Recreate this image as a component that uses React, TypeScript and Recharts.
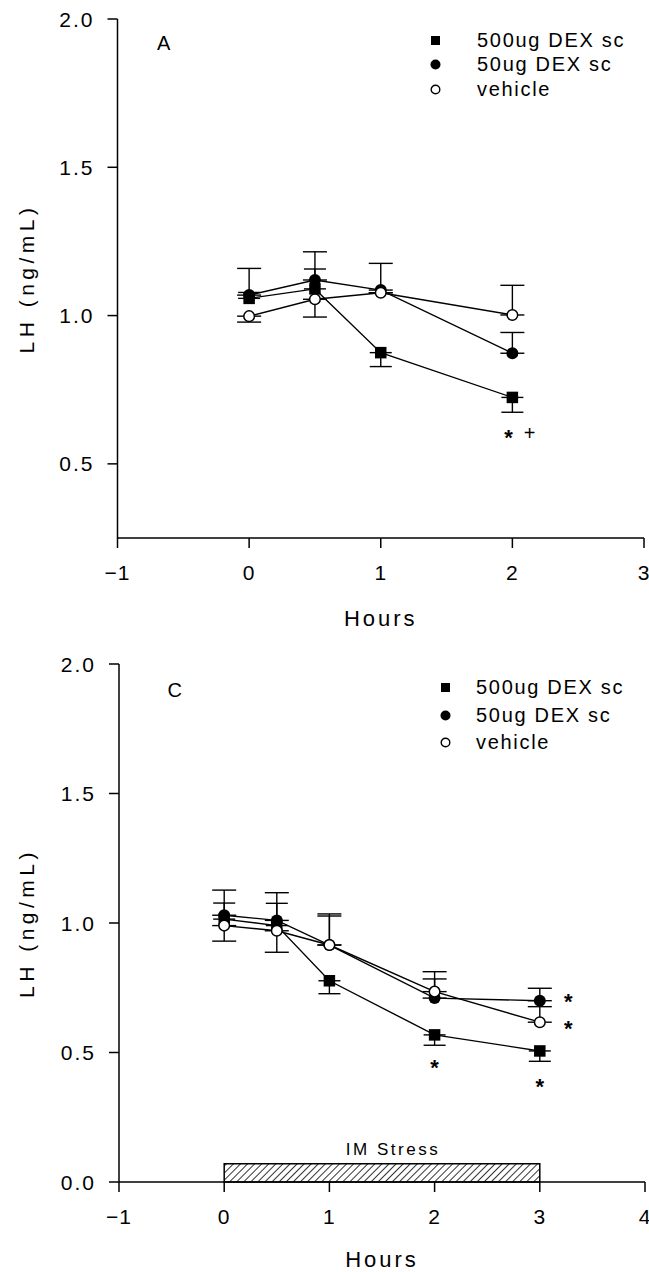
import React from 'react';
import {
  LineChart,
  Line,
  XAxis,
  YAxis,
  ErrorBar,
  ReferenceDot,
  ReferenceArea,
  Legend,
  Label,
} from 'recharts';

const FONT = '"Liberation Sans", Arial, Helvetica, sans-serif';

// ---------- shared ----------
const seriesNames = ['500ug DEX sc', '50ug DEX sc', 'vehicle'];

// ---------- Panel A ----------
const hoursA = [0, 0.5, 1, 2];
const lh500A = [1.058, 1.09, 0.875, 0.724];
const err500A = [[0, 0.02], [0, 0.067], [0.047, 0], [0.05, 0]];
const lh50A = [1.069, 1.12, 1.086, 0.873];
const err50A = [[0, 0.09], [0, 0.095], [0, 0.09], [0, 0.07]];
const lhVehA = [0.998, 1.055, 1.077, 1.002];
const errVehA = [[0.02, 0], [0.06, 0], [0, 0], [0, 0.1]];
const xTicksA = [-1, 0, 1, 2, 3];
const yTicksA = [0.5, 1.0, 1.5, 2.0];
const annotA = [
  { x: 1.97, y: 0.603, text: '*' },
  { x: 2.13, y: 0.603, text: '+' },
];
const panelLetterA = { x: -0.65, y: 1.92, text: 'A' };

// ---------- Panel C ----------
const hoursC = [0, 0.5, 1, 2, 3];
const lh500C = [1.015, 0.99, 0.777, 0.568, 0.506];
const err500C = [[0, 0.062], [0, 0.086], [0.05, 0], [0.04, 0], [0.04, 0]];
const lh50C = [1.03, 1.01, 0.915, 0.71, 0.7];
const err50C = [[0, 0.097], [0, 0.107], [0, 0.12], [0, 0.074], [0, 0.048]];
const lhVehC = [0.99, 0.97, 0.915, 0.735, 0.617];
const errVehC = [[0.06, 0], [0.083, 0], [0, 0.112], [0, 0.077], [0, 0.06]];
const xTicksC = [-1, 0, 1, 2, 3, 4];
const yTicksC = [0, 0.5, 1.0, 1.5, 2.0];
const annotC = [
  { x: 2, y: 0.458, text: '*' },
  { x: 3, y: 0.387, text: '*' },
  { x: 3.27, y: 0.715, text: '*' },
  { x: 3.27, y: 0.61, text: '*' },
];
const panelLetterC = { x: -0.47, y: 1.9, text: 'C' };
const stressBar = { start: 0, end: 3, top: 0.07, label: 'IM Stress' };

function buildRows(
  hours: number[],
  a: number[], ae: number[][],
  b: number[], be: number[][],
  c: number[], ce: number[][]
) {
  return hours.map((h, i) => ({
    hour: h,
    d500: a[i], d500Err: ae[i],
    d50: b[i], d50Err: be[i],
    veh: c[i], vehErr: ce[i],
  }));
}

const rowsA = buildRows(hoursA, lh500A, err500A, lh50A, err50A, lhVehA, errVehA);
const rowsC = buildRows(hoursC, lh500C, err500C, lh50C, err50C, lhVehC, errVehC);

// ---------- markers ----------
const SquareDot = (props: any) => {
  const { cx, cy, index } = props;
  if (cx == null || cy == null) return <g key={`sq-${index}`} />;
  return <rect key={`sq-${index}`} x={cx - 5.75} y={cy - 5.75} width={11.5} height={11.5} fill="#000" />;
};
const FilledDot = (props: any) => {
  const { cx, cy, index } = props;
  if (cx == null || cy == null) return <g key={`fc-${index}`} />;
  return <circle key={`fc-${index}`} cx={cx} cy={cy} r={6} fill="#000" />;
};
const OpenDot = (props: any) => {
  const { cx, cy, index } = props;
  if (cx == null || cy == null) return <g key={`oc-${index}`} />;
  return <circle key={`oc-${index}`} cx={cx} cy={cy} r={5.3} fill="#fff" stroke="#000" strokeWidth={1.5} />;
};

function legendMarker(key: string) {
  if (key === 'd500') return <rect x={4} y={4} width={9} height={9} fill="#000" />;
  if (key === 'd50') return <circle cx={8.5} cy={8.5} r={5} fill="#000" />;
  return <circle cx={8.5} cy={8.5} r={4.3} fill="#fff" stroke="#000" strokeWidth={1.4} />;
}

const makeLegend = (gap: number, rowH: number) => (props: any) => {
  const payload = props.payload || [];
  return (
    <div style={{ fontFamily: FONT, fontSize: 20, letterSpacing: 1.7, color: '#000', whiteSpace: 'nowrap' }}>
      {payload.map((entry: any, i: number) => (
        <div key={i} style={{ display: 'flex', alignItems: 'center', height: rowH }}>
          <svg width={17} height={17} style={{ marginRight: gap, flex: 'none' }}>
            {legendMarker(entry.dataKey)}
          </svg>
          <span>{entry.value}</span>
        </div>
      ))}
    </div>
  );
};

// ---------- ticks & labels ----------
const fmtX = (v: number) => (v < 0 ? `\u2212${Math.abs(v)}` : `${v}`);

const YTick = (props: any) => {
  const { x, y, payload } = props;
  return (
    <text x={x} y={y} textAnchor="end" dominantBaseline="central" fontSize={21}
      fontFamily={FONT} letterSpacing={2} fill="#000">
      {Number(payload.value).toFixed(1)}
    </text>
  );
};
const XTick = (props: any) => {
  const { x, y, payload } = props;
  return (
    <text x={x} y={y} textAnchor="middle" dy="0.71em" fontSize={21}
      fontFamily={FONT} letterSpacing={1} fill="#000">
      {fmtX(Number(payload.value))}
    </text>
  );
};

const makeHoursLabel = (offset: number) => (props: any) => {
  const vb = props.viewBox || {};
  return (
    <text x={vb.x + vb.width / 2} y={vb.y + offset} textAnchor="middle" dominantBaseline="central"
      fontSize={22} fontFamily={FONT} letterSpacing={3} fill="#000">
      Hours
    </text>
  );
};
const lhLabel = (props: any) => {
  const vb = props.viewBox || {};
  const x = vb.x + 26;
  const y = vb.y + vb.height / 2;
  return (
    <text x={x} y={y} transform={`rotate(-90 ${x} ${y})`} textAnchor="middle" dominantBaseline="central"
      fontSize={21} fontFamily={FONT} letterSpacing={4.5} fill="#000">
      LH (ng/mL)
    </text>
  );
};

const glyphLabel = (text: string, fontSize: number, shiftEm: number, bold = false) => (props: any) => {
  const vb = props.viewBox || {};
  const cx = vb.x + (vb.width || 0) / 2;
  const cy = vb.y + (vb.height || 0) / 2;
  return (
    <text x={cx} y={cy + shiftEm * fontSize} textAnchor="middle" fontSize={fontSize}
      fontFamily={FONT} fontWeight={bold ? 'bold' : 'normal'} fill="#000">
      {text}
    </text>
  );
};
const annotLabel = (text: string) =>
  text === '*' ? glyphLabel(text, 22, 0.55, true) : glyphLabel(text, 20, 0.35);

const stressLabel = (props: any) => {
  const vb = props.viewBox || {};
  return (
    <text x={vb.x + vb.width / 2 + 11} y={vb.y - 9} textAnchor="middle" fontSize={17}
      fontFamily={FONT} letterSpacing={2.5} fill="#000">
      {stressBar.label}
    </text>
  );
};

const axisStyle = { stroke: '#000', strokeWidth: 1.5 };

function renderSeries() {
  return [
    <Line key="d500" dataKey="d500" name={seriesNames[0]} stroke="#000" strokeWidth={1.4}
      dot={SquareDot} activeDot={false} isAnimationActive={false} legendType="square">
      <ErrorBar dataKey="d500Err" direction="y" width={11} stroke="#000" strokeWidth={1.4} isAnimationActive={false} />
    </Line>,
    <Line key="d50" dataKey="d50" name={seriesNames[1]} stroke="#000" strokeWidth={1.4}
      dot={FilledDot} activeDot={false} isAnimationActive={false} legendType="circle">
      <ErrorBar dataKey="d50Err" direction="y" width={12} stroke="#000" strokeWidth={1.4} isAnimationActive={false} />
    </Line>,
    <Line key="veh" dataKey="veh" name={seriesNames[2]} stroke="#000" strokeWidth={1.4}
      dot={OpenDot} activeDot={false} isAnimationActive={false} legendType="circle">
      <ErrorBar dataKey="vehErr" direction="y" width={12} stroke="#000" strokeWidth={1.4} isAnimationActive={false} />
    </Line>,
  ];
}

export default function App() {
  return (
    <div style={{ position: 'absolute', left: 0, top: 0, width: 649, height: 1272, background: '#fff' }}>
      {/* Panel A */}
      <div style={{ position: 'absolute', left: 0, top: 0 }}>
        <LineChart width={649} height={640} data={rowsA} margin={{ top: 19, right: 5, bottom: 0, left: 0 }}>
          <XAxis dataKey="hour" type="number" domain={[-1, 3]} ticks={xTicksA} interval={0}
            tick={XTick} tickSize={10} tickMargin={17} height={102}
            axisLine={axisStyle} tickLine={axisStyle}>
            <Label content={makeHoursLabel(80)} />
          </XAxis>
          <YAxis type="number" domain={[0.25, 2]} ticks={yTicksA} interval={0}
            tick={YTick} tickSize={10} tickMargin={13} width={117.5}
            axisLine={axisStyle} tickLine={axisStyle}>
            <Label content={lhLabel} />
          </YAxis>
          <Legend layout="vertical" align="center" verticalAlign="middle"
            wrapperStyle={{ left: 427, top: 28, width: 'auto' }}
            content={makeLegend(33, 24.5)} />
          {renderSeries()}
          <ReferenceDot x={panelLetterA.x} y={panelLetterA.y} r={1} fill="none" stroke="none"
            label={glyphLabel(panelLetterA.text, 20, 0.36)} />
          {annotA.map((a, i) => (
            <ReferenceDot key={`aa${i}`} x={a.x} y={a.y} r={1} fill="none" stroke="none"
              label={annotLabel(a.text)} />
          ))}
        </LineChart>
      </div>

      {/* Panel C */}
      <div style={{ position: 'absolute', left: 0, top: 640 }}>
        <LineChart width={649} height={632} data={rowsC} margin={{ top: 24, right: 4, bottom: 0, left: 0 }}>
          <defs>
            <pattern id="hatchC" patternUnits="userSpaceOnUse" width={5} height={5}
              patternTransform="rotate(45)">
              <rect width={5} height={5} fill="#fff" />
              <line x1={0} y1={0} x2={0} y2={5} stroke="#000" strokeWidth={1.6} />
            </pattern>
          </defs>
          <XAxis dataKey="hour" type="number" domain={[-1, 4]} ticks={xTicksC} interval={0}
            tick={XTick} tickSize={10} tickMargin={17} height={90}
            axisLine={axisStyle} tickLine={axisStyle}>
            <Label content={makeHoursLabel(77)} />
          </XAxis>
          <YAxis type="number" domain={[0, 2]} ticks={yTicksC} interval={0}
            tick={YTick} tickSize={10} tickMargin={13} width={119}
            axisLine={axisStyle} tickLine={axisStyle}>
            <Label content={lhLabel} />
          </YAxis>
          <Legend layout="vertical" align="center" verticalAlign="middle"
            wrapperStyle={{ left: 437, top: 34, width: 'auto' }}
            content={makeLegend(22, 27.5)} />
          <ReferenceArea x1={stressBar.start} x2={stressBar.end} y1={0} y2={stressBar.top}
            fill="url(#hatchC)" fillOpacity={1} stroke="#000" strokeWidth={1.5}
            ifOverflow="visible" label={stressLabel} />
          {renderSeries()}
          <ReferenceDot x={panelLetterC.x} y={panelLetterC.y} r={1} fill="none" stroke="none"
            label={glyphLabel(panelLetterC.text, 20, 0.36)} />
          {annotC.map((a, i) => (
            <ReferenceDot key={`ac${i}`} x={a.x} y={a.y} r={1} fill="none" stroke="none"
              label={annotLabel(a.text)} />
          ))}
        </LineChart>
      </div>
    </div>
  );
}
